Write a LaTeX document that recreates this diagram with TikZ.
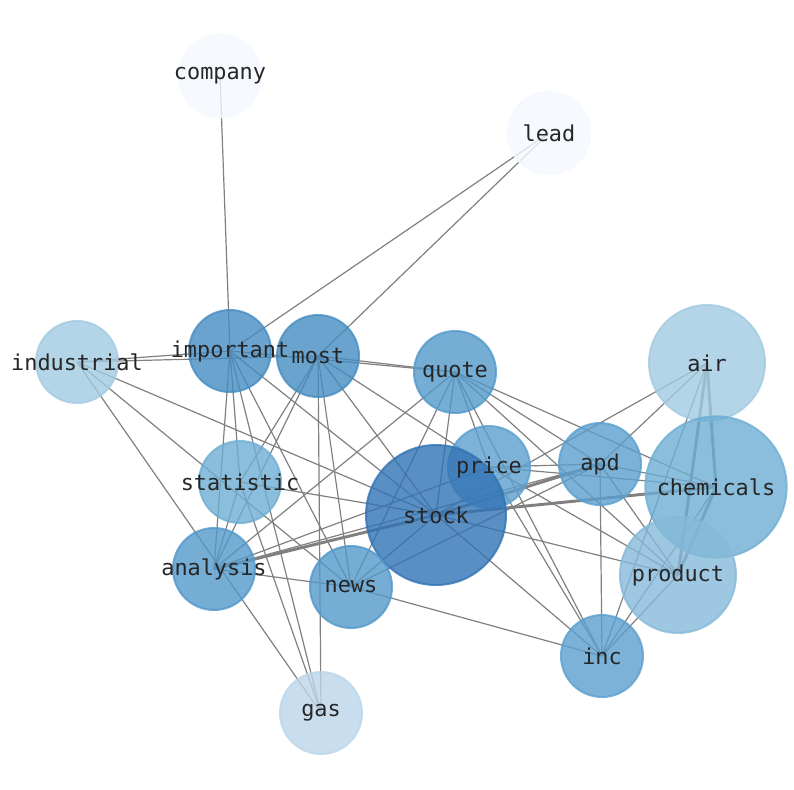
\documentclass[tikz,border=0pt]{standalone}
\usepackage{fontspec}
\usepackage{tikz}
\usetikzlibrary{positioning}
\newfontfamily\wordfont{DejaVu Sans Mono}

\definecolor{b1}{RGB}{49,115,181}
\definecolor{b2}{RGB}{70,140,195}
\definecolor{b3}{RGB}{82,152,201}
\definecolor{b4}{RGB}{92,159,206}
\definecolor{b5}{RGB}{110,174,211}
\definecolor{b6}{RGB}{134,185,217}
\definecolor{b7}{RGB}{161,203,225}
\definecolor{b8}{RGB}{186,214,234}
\definecolor{b9}{RGB}{244,249,255}

\pgfdeclarelayer{edges}
\pgfsetlayers{edges,main}

\tikzset{
  word/.style={circle, draw=#1, fill=#1, fill opacity=0.8, draw opacity=0.8,
    line width=1.5pt, inner sep=0pt, minimum size=61.5pt},
  link/.style={draw=black!50, line width=0.9pt},
  heavy/.style={link, line width=2.2pt},
  lbl/.style={text=black!85, inner sep=0pt,
    font=\wordfont\fontsize{16.4}{18}\selectfont}
}

\begin{document}
\begin{tikzpicture}[x=0.75pt, y=-0.75pt]
    \useasboundingbox (0,0) rectangle (794,790);

    % words
    \foreach \n/\x/\y/\c/\s in {company/220/76/b9/62pt, lead/549/133/b9/62pt,
        industrial/77/362/b7/61.5pt, important/230/351/b2/61.5pt,
        most/318/356/b2/61.5pt, quote/455/372/b3/61.5pt, air/707/363/b7/87pt,
        statistic/240/482/b5/61.5pt, price/489/467/b4/61.5pt,
        apd/600/464/b4/61.5pt, chemicals/716/487/b5/106pt,
        stock/436/515/b1/105pt, analysis/214/569/b3/61.5pt,
        news/351/587/b3/61.5pt, product/678/575/b6/87pt,
        inc/602/656/b4/61.5pt, gas/321/713/b8/61.5pt}
        \node[word=\c, minimum size=\s] (\n) at (\x,\y) {};

    % co-occurrence links
    \begin{pgfonlayer}{edges}
        \foreach \a/\b in {company/important, lead/important, lead/most,
            industrial/important, industrial/most, industrial/stock,
            industrial/news, industrial/gas,
            important/quote, important/statistic, important/analysis,
            important/gas, important/news, important/stock,
            most/quote, most/statistic, most/analysis, most/gas, most/news,
            most/stock, most/price,
            quote/analysis, quote/news, quote/stock, quote/price, quote/inc,
            quote/apd, quote/chemicals, quote/product,
            statistic/stock, statistic/gas, statistic/analysis,
            analysis/news, analysis/apd, analysis/price,
            news/stock, news/apd, news/inc,
            stock/air, stock/product, stock/inc,
            price/apd, price/chemicals, price/inc, price/product,
            apd/air, apd/chemicals, apd/product, apd/inc,
            air/inc, chemicals/inc, product/inc}
            \draw[link] (\a.center) -- (\b.center);
        \foreach \a/\b in {analysis/stock, stock/apd, stock/chemicals,
            air/chemicals, air/product, chemicals/product}
            \draw[heavy] (\a.center) -- (\b.center);
    \end{pgfonlayer}

    % labels on top
    \foreach \n in {company, lead, industrial, important, most, quote, air,
        statistic, price, apd, chemicals, stock, analysis, news, product,
        inc, gas}
        \node[lbl] (\n-t) at (\n) {\n};
\end{tikzpicture}
\end{document}
